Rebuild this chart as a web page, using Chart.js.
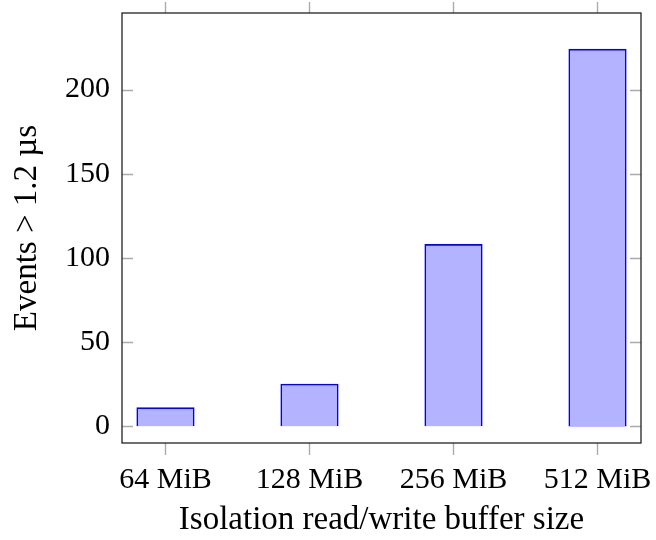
<!DOCTYPE html>
<html>
<head>
<meta charset="utf-8">
<script src="https://cdn.jsdelivr.net/npm/chart.js@4/dist/chart.umd.min.js"></script>
<style>
  html, body { margin: 0; padding: 0; background: #ffffff; }
  #wrap { width: 656px; height: 540px; }
</style>
</head>
<body>
<div id="wrap"><canvas id="chart" width="656" height="540"></canvas></div>
<script>
// Buffer sizes on the x axis and the event counts measured for each
const categories = ['64 MiB', '128 MiB', '256 MiB', '512 MiB'];
const events = [11, 25, 108, 224];
const yTicks = [0, 50, 100, 150, 200];

const xTitle = 'Isolation read/write buffer size';
const yTitle = 'Events > 1.2 \u00B5s';

const SERIF = '"Liberation Serif", "Times New Roman", serif';

// Frame around the plot area plus short tick marks on all four sides
const framePlugin = {
  id: 'frame',
  afterDraw(chart) {
    const { ctx, chartArea: a, scales } = chart;
    const len = 11;
    ctx.save();
    ctx.strokeStyle = '#ababab';
    ctx.lineWidth = 1.4;
    ctx.beginPath();
    scales.y.ticks.forEach(t => {
      const py = Math.round(scales.y.getPixelForValue(t.value)) + 0.5;
      ctx.moveTo(a.left, py); ctx.lineTo(a.left + len, py);
      ctx.moveTo(a.right - len, py); ctx.lineTo(a.right, py);
    });
    scales.x.ticks.forEach(t => {
      const px = scales.x.getPixelForValue(t.value);
      ctx.moveTo(px, a.top - len); ctx.lineTo(px, a.top);
      ctx.moveTo(px, a.bottom); ctx.lineTo(px, a.bottom + len + 1);
    });
    ctx.stroke();
    ctx.strokeStyle = '#222222';
    ctx.lineWidth = 1.3;
    ctx.strokeRect(a.left, a.top, a.right - a.left, a.bottom - a.top);
    ctx.restore();
  }
};

new Chart(document.getElementById('chart'), {
  type: 'bar',
  data: {
    datasets: [{
      data: events.map((v, i) => ({ x: i, y: v })),
      backgroundColor: 'rgb(179,179,255)',
      borderColor: 'rgb(0,0,255)',
      borderWidth: 1.6,
      barThickness: 57.5
    }]
  },
  options: {
    responsive: false,
    animation: false,
    devicePixelRatio: 1,
    layout: { padding: { top: 13, right: 15, left: 0, bottom: 0 } },
    plugins: { legend: { display: false }, tooltip: { enabled: false } },
    scales: {
      x: {
        type: 'linear',
        offset: false,
        min: -0.302,
        max: 3.302,
        afterBuildTicks(scale) { scale.ticks = categories.map((_, i) => ({ value: i })); },
        afterFit(scale) {
          scale.height = 97;
          scale.paddingLeft = 0;
          scale.paddingRight = 0;
        },
        grid: { display: false, drawTicks: false },
        border: { display: false },
        ticks: {
          padding: 19,
          color: '#000',
          font: { family: SERIF, size: 30 },
          maxRotation: 0,
          autoSkip: false,
          callback: v => categories[v] ?? ''
        },
        title: {
          display: true,
          text: xTitle,
          color: '#000',
          font: { family: SERIF, size: 33 },
          padding: { top: 8, bottom: 0 }
        }
      },
      y: {
        min: -10,
        max: 245.5,
        afterBuildTicks(scale) { scale.ticks = yTicks.map(v => ({ value: v })); },
        afterFit(scale) {
          scale.width = 122;
          scale.paddingTop = 0;
          scale.paddingBottom = 0;
        },
        grid: { display: false, drawTicks: false },
        border: { display: false },
        ticks: {
          padding: 12,
          color: '#000',
          font: { family: SERIF, size: 30 },
          autoSkip: false
        },
        title: {
          display: true,
          text: yTitle,
          color: '#000',
          font: { family: SERIF, size: 33 },
          padding: { top: 8, bottom: 0 }
        }
      }
    }
  },
  plugins: [framePlugin]
});
</script>
</body>
</html>
